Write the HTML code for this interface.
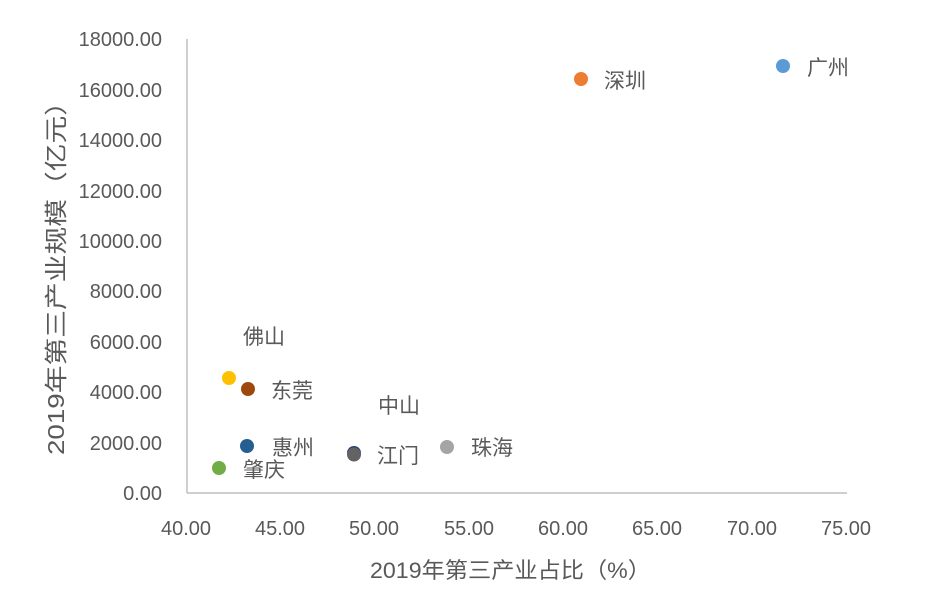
<!DOCTYPE html>
<html>
<head>
<meta charset="utf-8">
<style>
  html,body{margin:0;padding:0;background:#fff;}
  svg{display:block;}
  text{font-family:"Liberation Sans","Noto Sans CJK SC",sans-serif;fill:#595959;}
</style>
</head>
<body>
<svg width="931" height="606" viewBox="0 0 931 606" xmlns="http://www.w3.org/2000/svg">
  <rect width="931" height="606" fill="#fff"/>
  <!-- axes -->
  <line x1="187" y1="39" x2="187" y2="493" stroke="#bfbfbf" stroke-width="1.5"/>
  <line x1="187" y1="493" x2="847" y2="493" stroke="#bfbfbf" stroke-width="1.5"/>

  <!-- y tick labels -->
  <g font-size="20" text-anchor="end">
    <text x="162" y="500">0.00</text>
    <text x="162" y="450">2000.00</text>
    <text x="162" y="399">4000.00</text>
    <text x="162" y="349">6000.00</text>
    <text x="162" y="298">8000.00</text>
    <text x="162" y="248">10000.00</text>
    <text x="162" y="198">12000.00</text>
    <text x="162" y="147">14000.00</text>
    <text x="162" y="97">16000.00</text>
    <text x="162" y="46">18000.00</text>
  </g>

  <!-- x tick labels -->
  <g font-size="20" text-anchor="middle">
    <text x="186" y="535">40.00</text>
    <text x="280" y="535">45.00</text>
    <text x="374" y="535">50.00</text>
    <text x="469" y="535">55.00</text>
    <text x="563" y="535">60.00</text>
    <text x="657" y="535">65.00</text>
    <text x="752" y="535">70.00</text>
    <text x="846" y="535">75.00</text>
  </g>

  <!-- axis titles -->
  <text x="370" y="578" font-size="22" textLength="281" lengthAdjust="spacingAndGlyphs">2019年第三产业占比（%）</text>
  <text transform="translate(64,455) rotate(-90)" x="0" y="0" font-size="23" textLength="367" lengthAdjust="spacingAndGlyphs">2019年第三产业规模（亿元）</text>

  <!-- points -->
  <circle cx="783" cy="66" r="7" fill="#5B9BD5"/>
  <circle cx="581" cy="79" r="7" fill="#ED7D31"/>
  <circle cx="229" cy="378" r="7" fill="#FFC000"/>
  <circle cx="248" cy="389" r="7" fill="#9E480E"/>
  <circle cx="247" cy="446" r="7" fill="#255E91"/>
  <circle cx="354" cy="453" r="7" fill="#264478"/>
  <circle cx="354" cy="454.5" r="7" fill="#636363"/>
  <circle cx="447" cy="447" r="7" fill="#A5A5A5"/>
  <circle cx="219" cy="468" r="7" fill="#70AD47"/>

  <!-- data labels -->
  <g font-size="21">
    <text x="807" y="75">广州</text>
    <text x="604" y="88">深圳</text>
    <text x="243" y="344">佛山</text>
    <text x="271" y="398">东莞</text>
    <text x="378" y="413">中山</text>
    <text x="272" y="455">惠州</text>
    <text x="377" y="463">江门</text>
    <text x="471" y="455">珠海</text>
    <text x="243" y="477">肇庆</text>
  </g>
</svg>
</body>
</html>
